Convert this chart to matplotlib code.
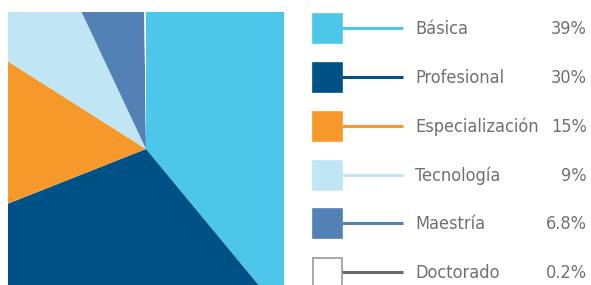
import matplotlib
matplotlib.use("Agg")
import matplotlib.pyplot as plt
from matplotlib.patches import Rectangle

categories = ["Básica", "Profesional", "Especialización", "Tecnología", "Maestría", "Doctorado"]
values = [39, 30, 15, 9, 6.8, 0.2]
pct_labels = ["39%", "30%", "15%", "9%", "6.8%", "0.2%"]
colors = ["#4DC7E9", "#005186", "#F7992A", "#C0E6F5", "#5282B5", "#FFFFFF"]
line_colors = ["#4DC7E9", "#005186", "#F7992A", "#C0E6F5", "#5282B5", "#6B6B6B"]

plt.rcParams["font.family"] = ["DejaVu Sans"]

W, H = 591, 285
fig = plt.figure(figsize=(W / 100, H / 100), dpi=100)

# pie area (pixel box x 8..284, y 12..285 from top)
x0, x1, yt, yb = 8, 284, 12, 285
ax = fig.add_axes([x0 / W, (H - yb) / H, (x1 - x0) / W, (yb - yt) / H])
cx, cy = 146, H - 149
wedges, _ = ax.pie(values, colors=colors, startangle=90, counterclock=False,
                   center=(cx, cy), radius=260, frame=True,
                   wedgeprops=dict(linewidth=0, antialiased=True))
ax.set_xlim(x0, x1)
ax.set_ylim(H - yb, H - yt)
ax.set_aspect("auto")
ax.axis("off")
for w in wedges:
    w.set_clip_on(True)
    w.set_clip_path(ax.patch)

# legend drawn in pixel coordinates
lg = fig.add_axes([0, 0, 1, 1])
lg.set_xlim(0, W)
lg.set_ylim(H, 0)
lg.axis("off")
tops = [13, 62, 111, 160, 208, 257]
for i, cat in enumerate(categories):
    t = tops[i]
    ec = "#9A9A9A" if colors[i].upper() == "#FFFFFF" else colors[i]
    lg.add_patch(Rectangle((312.5, t + 0.5), 29, 29, facecolor=colors[i],
                           edgecolor=ec, linewidth=1.2, clip_on=False))
    cyy = t + 15
    lg.plot([342, 403], [cyy, cyy], color=line_colors[i], lw=2.2,
            solid_capstyle="butt")
    lg.text(415, cyy + 1, cat, fontsize=13, color="#707070",
            va="center", ha="left", fontstretch="condensed")
    lg.text(587, cyy + 1, pct_labels[i], fontsize=13, color="#707070",
            va="center", ha="right", fontstretch="condensed")

fig.savefig("out.png", dpi=100)
